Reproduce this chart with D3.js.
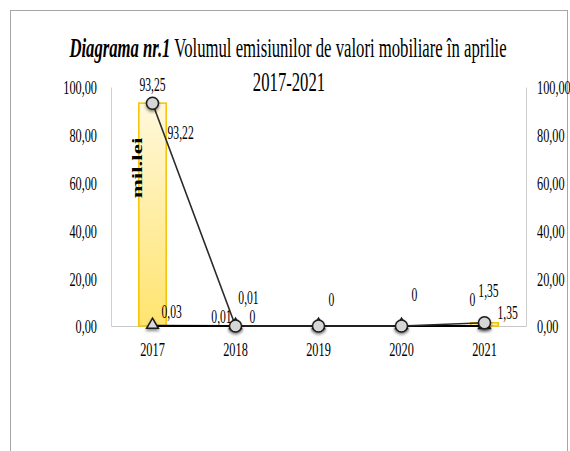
<!DOCTYPE html>
<html>
<head>
<meta charset="utf-8">
<script src="https://cdn.jsdelivr.net/npm/d3@7"></script>
<style>
  body { margin: 0; background: #fff; }
  svg text { font-family: "Liberation Serif", "Times New Roman", serif; fill: #000; }
</style>
</head>
<body>
<script>
// date
var ani = ["2017", "2018", "2019", "2020", "2021"];
var total = [93.25, 0.01, 0, 0, 1.35];      // bare
var actiuni = [93.22, 0.01, 0, 0, 1.35];    // linie cu cercuri
var obligatiuni = [0.03, 0, 0, 0, 0];       // linie cu triunghiuri
var yTicks = [0, 20, 40, 60, 80, 100];

var SX = 0.63; // textul din imagine e comprimat pe orizontala

var svg = d3.select("body").append("svg")
    .attr("width", 570)
    .attr("height", 451);

var defs = svg.append("defs");
var grad = defs.append("linearGradient").attr("id", "galben")
    .attr("x1", 0).attr("y1", 0).attr("x2", 0).attr("y2", 1);
grad.append("stop").attr("offset", "0%").attr("stop-color", "#fff8dc");
grad.append("stop").attr("offset", "100%").attr("stop-color", "#ffe46e");
var umbra = defs.append("filter").attr("id", "umbra")
    .attr("x", "-50%").attr("y", "-50%").attr("width", "200%").attr("height", "200%");
umbra.append("feDropShadow").attr("dx", 0).attr("dy", 2).attr("stdDeviation", 1.5)
    .attr("flood-color", "#000").attr("flood-opacity", 0.45);

// rama
svg.append("rect")
    .attr("x", 10.5).attr("y", 10.5)
    .attr("width", 557).attr("height", 460)
    .attr("fill", "none").attr("stroke", "#a6a6a6");

var margin = {top: 87, left: 111, right: 44, bottom: 125};
var width = 570 - margin.left - margin.right,
    height = 451 - margin.top - margin.bottom;

var x = d3.scaleBand().domain(ani).range([0, width]);
var y = d3.scaleLinear().domain([0, 100]).range([height, 0]);
function cx(i) { return x(ani[i]) + x.bandwidth() / 2; }
function fmt(v) { return v === 0 ? "0" : d3.format(".2f")(v).replace(".", ","); }

var g = svg.append("g").attr("transform", "translate(" + margin.left + "," + margin.top + ")");

// titlu
function text(parent, px, py, size, anchor) {
  return parent.append("text")
    .attr("transform", "translate(" + px + "," + py + ") scale(" + SX + ",1)")
    .attr("text-anchor", anchor || "middle")
    .style("font-size", size + "px");
}
var t1 = text(svg, 288, 57, 26.5);
t1.append("tspan").style("font-weight", "bold").style("font-style", "italic").text("Diagrama nr.1");
t1.append("tspan").text(" Volumul emisiunilor de valori mobiliare în aprilie");
text(svg, 289, 91, 26.5).text("2017-2021");

// axe
var ax = g.append("g").attr("class", "y axis")
    .call(d3.axisLeft(y).tickValues(yTicks).tickSize(0).tickFormat(function(d) { return d3.format(".2f")(d).replace(".", ","); }));
ax.selectAll("text").attr("x", -14 / SX).attr("dy", "0.35em")
    .attr("transform", "scale(" + SX + ",1)").style("font-size", "19.5px");

var ax2 = g.append("g").attr("class", "y axis")
    .attr("transform", "translate(" + width + ",0)")
    .call(d3.axisRight(y).tickValues(yTicks).tickSize(0).tickFormat(function(d) { return d3.format(".2f")(d).replace(".", ","); }));
ax2.selectAll("text").attr("x", 11 / SX).attr("dy", "0.35em")
    .attr("transform", "scale(" + SX + ",1)").style("font-size", "19.5px");

g.selectAll(".y.axis .domain").attr("stroke", "#d0d0d0");

var axx = g.append("g").attr("class", "x axis")
    .attr("transform", "translate(0," + height + ")")
    .call(d3.axisBottom(x).tickSize(0).tickSizeOuter(0));
axx.select(".domain").attr("stroke", "#c8c8c8");
axx.selectAll("text").attr("y", 0).attr("dy", "1.55em")
    .attr("transform", "scale(" + SX + ",1)").style("font-size", "19.5px");

// bare
var bw = x.bandwidth() * 0.33;
g.selectAll(".bar")
    .data(total)
  .enter().append("rect")
    .attr("class", "bar")
    .attr("x", function(d, i) { return cx(i) - bw / 2; })
    .attr("y", function(d) { return y(d); })
    .attr("width", bw)
    .attr("height", function(d) { return height - y(d); })
    .attr("fill", "url(#galben)")
    .attr("stroke", "#f7c200")
    .attr("stroke-width", 1.5);

// linii
var linie = d3.line().x(function(d, i) { return cx(i); }).y(function(d) { return y(d); });
g.append("path").datum(obligatiuni).attr("d", linie)
    .attr("fill", "none").attr("stroke", "#000").attr("stroke-width", 2.2);
g.append("path").datum(actiuni).attr("d", linie)
    .attr("fill", "none").attr("stroke", "#2b2b2b").attr("stroke-width", 1.6);

// markere
g.selectAll(".tri")
    .data(obligatiuni)
  .enter().append("path")
    .attr("class", "tri")
    .attr("d", d3.symbol().type(d3.symbolTriangle).size(60))
    .attr("transform", function(d, i) { return "translate(" + cx(i) + "," + (y(d) - 1) + ")"; })
    .attr("fill", function(d, i) { return i === 4 ? "#333" : "#d9d9d9"; })
    .attr("stroke", "#1a1a1a").attr("stroke-width", 1.5)
    .attr("filter", "url(#umbra)");

g.selectAll(".cerc")
    .data(actiuni)
  .enter().append("circle")
    .attr("class", "cerc")
    .attr("cx", function(d, i) { return cx(i); })
    .attr("cy", function(d) { return y(d); })
    .attr("r", 6)
    .attr("fill", "#d6d6d6")
    .attr("stroke", "#1a1a1a").attr("stroke-width", 1.5)
    .attr("filter", "url(#umbra)");

// etichete: [serie, index, dx, dy, ancora]
var serii = {total: total, actiuni: actiuni, obligatiuni: obligatiuni};
var etichete = [
  ["total", 0, 0, -19, "middle"],
  ["total", 1, 13, -28, "middle"],
  ["total", 2, 13, -26, "middle"],
  ["total", 3, 13, -31, "middle"],
  ["total", 4, 4, -32, "middle"],
  ["actiuni", 0, 15, 29, "start"],
  ["actiuni", 1, -14, -9, "middle"],
  ["actiuni", 4, 13, -10, "start"],
  ["obligatiuni", 0, 9, -14, "start"],
  ["obligatiuni", 1, 17, -9, "middle"],
  ["obligatiuni", 4, -12, -26, "middle"]
];
etichete.forEach(function(e) {
  var v = serii[e[0]][e[1]];
  text(g, cx(e[1]) + e[2], y(v) + e[3], 18.5, e[4]).attr("dy", "0.35em").text(fmt(v));
});

// unitatea de masura
svg.append("text")
    .attr("transform", "translate(137,168) scale(" + SX + ",1) rotate(-90)")
    .attr("text-anchor", "middle").attr("dy", "0.35em")
    .style("font-size", "23px").style("font-weight", "bold")
    .text("mil.lei");
</script>
</body>
</html>
